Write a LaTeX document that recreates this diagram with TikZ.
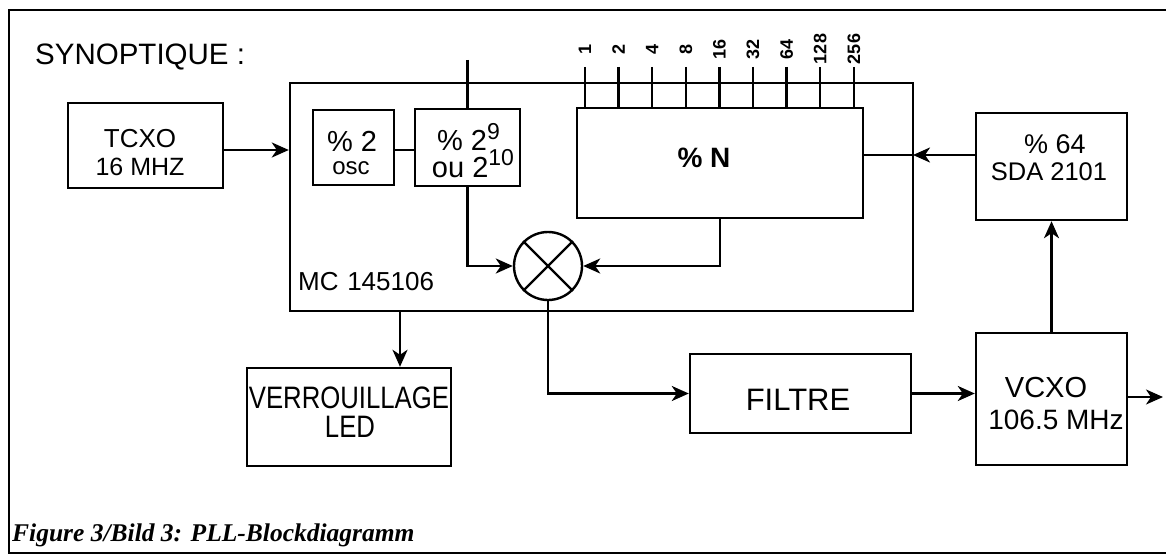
\documentclass[tikz,border=0pt]{standalone}
\usepackage{fontspec}
\setmainfont{Liberation Sans}
\newfontfamily\narrowfont[FakeStretch=0.83]{Liberation Sans}
\newfontfamily\capfont{Liberation Serif}
\usetikzlibrary{arrows.meta}
\newcommand{\fsz}[1]{\fontsize{#1}{#1}\selectfont}
\begin{document}
\begin{tikzpicture}[x=1pt,y=-1pt,
  blk/.style={draw,line width=2.4pt,inner sep=0pt},
  txt/.style={anchor=base,inner sep=0pt},
  conn/.style={line width=2.4pt},
  arr/.style={line width=2.4pt,-{Stealth[length=17pt,width=15pt,inset=5pt]}},
  tap/.style={line width=2.4pt},
  taplab/.style={rotate=90,inner sep=0pt,font=\fsz{18}\bfseries},
  frame/.style={line width=2pt}]
\useasboundingbox (0,0) rectangle (1166,559);
% outer frame
\coordinate (fr1) at (1166,10);
\coordinate (fr2) at (9,10);
\coordinate (fr3) at (9,553);
\coordinate (fr4) at (1166,553);
\draw[frame] (fr1) -- (fr2) -- (fr3) -- (fr4);

\node[txt,anchor=base west,font=\fsz{29.5}] (title) at (35,65) {SYNOPTIQUE :};

% blocks
\node[blk,minimum width=155,minimum height=85] (tcxo) at (145.5,145.5) {};
\node[blk,minimum width=623,minimum height=228] (mc) at (601.5,197) {};
\node[blk,minimum width=81,minimum height=75] (div2) at (353.5,147.5) {};
\node[blk,minimum width=105,minimum height=77] (div9) at (467.5,147.5) {};
\node[blk,minimum width=286,minimum height=110] (divN) at (720,163) {};
\node[blk,minimum width=151,minimum height=107] (div64) at (1051.5,166.5) {};
\node[blk,minimum width=151,minimum height=132] (vcxo) at (1051.5,399) {};
\node[blk,minimum width=221,minimum height=79] (filt) at (800.5,393.5) {};
\node[blk,minimum width=204,minimum height=98] (verr) at (349,417) {};
\node[draw,circle,line width=2.4pt,minimum size=68,inner sep=0pt] (mix) at (548,266) {};
\draw[conn] (mix.north west) -- (mix.south east);
\draw[conn] (mix.north east) -- (mix.south west);

% texts
\node[txt,font=\fsz{26}] (tcxoA) at (140,147) {TCXO};
\node[txt,font=\fsz{25}] (tcxoB) at (140,175) {16 MHZ};
\node[txt,font=\fsz{29}] (div2A) at (352,151) {\% 2};
\node[txt,font=\fsz{24}] (div2B) at (351,174) {osc};
\node[txt,font=\fsz{29}] (div9A) at (468.5,150) {\% 2\raisebox{11pt}{\fsz{23}9}};
\node[txt,font=\fsz{29}] (div9B) at (473,177) {ou 2\raisebox{12pt}{\fsz{23}10}};
\node[txt,font=\fsz{28}\bfseries] (divNA) at (704,167) {\% N};
\node[txt,font=\fsz{27}] (div64A) at (1055,153) {\% 64};
\node[txt,font=\fsz{25.5}] (div64B) at (1049,180) {SDA 2101};
\node[txt,anchor=base west,font=\fsz{26}] (mcA) at (298,290) {MC\,\,145106};
\node[txt,font=\fsz{31}] (filtA) at (798,410) {FILTRE};
\node[txt,font=\narrowfont\fsz{31}] (verrA) at (349,408) {VERROUILLAGE};
\node[txt,font=\narrowfont\fsz{31}] (verrB) at (350,437) {LED};
\node[txt,font=\fsz{29}] (vcxoA) at (1046,397) {VCXO};
\node[txt,font=\fsz{28}] (vcxoB) at (1056,429) {106.5 MHz};
\node[txt,anchor=base west,font=\capfont\bfseries\itshape\fsz{25.5}] (cap) at (12,541) {Figure 3/Bild 3: PLL-Blockdiagramm};

% taps of the programmable divider
\foreach \v [count=\i] in {1,2,4,8,16,32,64,128,256} {
  \pgfmathsetmacro\xx{585+(\i-1)*33.6}
  \node[taplab] (L\i) at (\xx,49) {\v};
  \coordinate (T\i) at (\xx,67);
  \draw[tap] (T\i) -- (T\i |- divN.north);
}

% connectors
\coordinate (ctop) at (467.5,60);
\draw[conn] (ctop) -- (div9.north);
\draw[arr] (tcxo.east |- 0,150) -- (mc.west |- 0,150);
\draw[conn] (div2.east |- 0,150) -- (div9.west |- 0,150);
\draw[arr] (div9.south) |- (mix.west);
\draw[arr] (divN.south) |- (mix.east);
\draw[arr] (mix.south) |- (filt.west);
\draw[arr] (filt.east) -- (filt.east -| vcxo.west);
\coordinate (out) at (1163,397);
\draw[arr] (vcxo.east |- out) -- (out);
\draw[arr] (vcxo.north) -- (div64.south);
\coordinate (fb) at (913,155);
\draw[arr] (div64.west |- fb) -- (fb);
\draw[conn] (divN.east |- fb) -- (fb);
\coordinate (lk) at (400,0);
\draw[arr] (lk |- mc.south) -- (lk |- verr.north);
\end{tikzpicture}
\end{document}
